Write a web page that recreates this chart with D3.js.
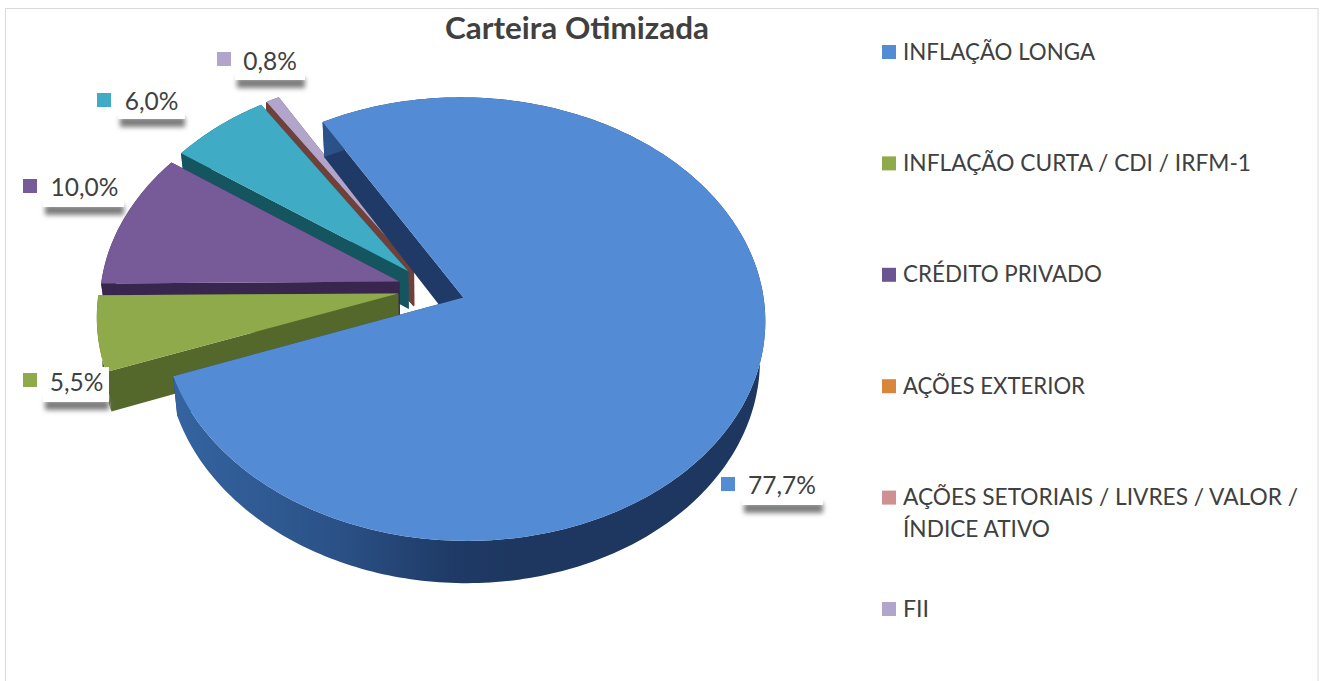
<!DOCTYPE html>
<html lang="pt">
<head>
<meta charset="utf-8">
<script src="https://cdn.jsdelivr.net/npm/d3@7/dist/d3.min.js"></script>
<style>
html,body{margin:0;padding:0;background:#fff;overflow:hidden}
svg{display:block}
text{font-family:Lato,"Open Sans",sans-serif}
</style>
</head>
<body>
<svg id="c" width="1322" height="681"></svg>
<script>
// ---- data ----
const chartTitle = "Carteira Otimizada";
const sliceValues = [77.7, 5.5, 10.0, 6.0, 0, 0, 0.8];
const sliceLabels = ["77,7%", "5,5%", "10,0%", "6,0%", null, null, "0,8%"];
const legendItems = [
  ["INFLAÇÃO LONGA"],
  ["INFLAÇÃO CURTA / CDI / IRFM-1"],
  ["CRÉDITO PRIVADO"],
  ["AÇÕES EXTERIOR"],
  ["AÇÕES SETORIAIS / LIVRES / VALOR /", "ÍNDICE ATIVO"],
  ["FII"]
];

// ---- styles & layout ----
const topColors  = ["#548bd5", "#8eaa4a", "#775a98", "#3fabc5", "#d9853c", "#cf9091", "#b2a5cb"];
const wallColors = ["#1f3a66", "#55682c", "#38264f", "#155560", "#70403a", "#70403a", "#70403a"];
const legendColors = ["#548bd5", "#8eaa4a", "#6b5590", "#d9853c", "#cf9091", "#b2a5cb"];
const legendWidths = [[192],[348],[199],[182],[395,147],[26]];
const labelLayout = [
  {box:[742,468,81,37], sw:[721,477], tx:782, ty:485},
  {box:[43,367,66,35],  sw:[23,373],  tx:76.5, ty:382},
  {box:[43,173,81,34],  sw:[23,179],  tx:84.5, ty:187.5},
  {box:[118,85,67,34],  sw:[97,93],   tx:151.5, ty:101},
  null, null,
  {box:[235,45,70,35],  sw:[217,52],  tx:270, ty:61}
];
const W = 1322, H = 681;
const origin = {x:431.5, y:289}, Rx = 299, Ry = 218, persp = 0.0976, depth = 38, explode = 0.113, taper = 0.016;

const svg = d3.select("#c");
const defs = svg.append("defs");
defs.append("filter").attr("id","blur").attr("x","-20%").attr("y","-100%").attr("width","140%").attr("height","300%")
  .append("feGaussianBlur").attr("stdDeviation",2.6);
const grad = defs.append("linearGradient").attr("id","blueWall")
  .attr("gradientUnits","userSpaceOnUse").attr("x1",180).attr("x2",520).attr("y1",0).attr("y2",0);
grad.append("stop").attr("offset",0).attr("stop-color","#34639f");
grad.append("stop").attr("offset",0.45).attr("stop-color","#2b5288");
grad.append("stop").attr("offset",0.8).attr("stop-color","#1f3a66");
grad.append("stop").attr("offset",1).attr("stop-color","#1d3760");

// frame
svg.append("rect").attr("x",5.5).attr("y",8.5).attr("width",1312.5).attr("height",690)
  .attr("fill","#fff").attr("stroke","#d9d9d9");

// ---- pie ----
const toRad = d => d*Math.PI/180;
const pie = d3.pie().sort(null).value(d => d).startAngle(toRad(-30)).endAngle(toRad(330));
const arcs = pie(sliceValues).map((d,i) => {
  const mid = (d.startAngle+d.endAngle)/2;
  return {...d, i, cu: explode*Math.sin(mid), cv: explode*Math.cos(mid)};
});

// perspective projection of the disc plane; h=1 gives the underside
const project = (u,v,h) => {
  const w = 1 + persp*v;
  return [origin.x + (1-h*taper)*Rx*u/w, origin.y - Ry*v/w + h*depth/w];
};
const line = d3.line();
const rimPts = (s,h) => {
  const n = Math.max(2, Math.ceil((s.endAngle-s.startAngle)/toRad(1)));
  return d3.range(n+1).map(k => {
    const a = s.startAngle + (s.endAngle-s.startAngle)*k/n;
    return project(s.cu+Math.sin(a), s.cv+Math.cos(a), h);
  });
};
const edge = (s,a) => {
  const p = [[s.cu,s.cv,0],[s.cu+Math.sin(a),s.cv+Math.cos(a),0],[s.cu+Math.sin(a),s.cv+Math.cos(a),1],[s.cu,s.cv,1]];
  return p.map(q => project(q[0],q[1],q[2]));
};

// paint back to front
const order = [6,5,4,3,2,1,0];
const g = svg.append("g");
const sliceG = g.selectAll("g.slice").data(order.map(i=>arcs[i])).join("g").attr("class","slice");
sliceG.append("path").attr("d", s => line(edge(s,s.startAngle))+"Z").attr("fill", s=>wallColors[s.i]);
sliceG.append("path").attr("d", s => line(edge(s,s.endAngle))+"Z").attr("fill", s=>wallColors[s.i]);
sliceG.append("path").attr("d", s => line(rimPts(s,0).concat(rimPts(s,1).reverse()))+"Z")
  .attr("fill", s => s.i===0 ? "url(#blueWall)" : wallColors[s.i]);
sliceG.filter(s=>s.value>0).append("path")
  .attr("d", s => line([project(s.cu,s.cv,0)].concat(rimPts(s,0)))+"Z")
  .attr("fill", s=>topColors[s.i]);

// ---- data labels ----
const lab = svg.append("g").selectAll("g").data(arcs.filter(s=>sliceLabels[s.i])).join("g");
lab.append("rect").attr("x",s=>labelLayout[s.i].box[0]+2).attr("y",s=>labelLayout[s.i].box[1]+labelLayout[s.i].box[3]-2)
  .attr("width",s=>labelLayout[s.i].box[2]-2).attr("height",10).attr("fill","#7c7c7c").attr("filter","url(#blur)");
lab.append("rect").attr("x",s=>labelLayout[s.i].box[0]).attr("y",s=>labelLayout[s.i].box[1])
  .attr("width",s=>labelLayout[s.i].box[2]).attr("height",s=>labelLayout[s.i].box[3]).attr("fill","#fff");
lab.append("rect").attr("x",s=>labelLayout[s.i].sw[0]).attr("y",s=>labelLayout[s.i].sw[1])
  .attr("width",14).attr("height",14).attr("fill",s=>topColors[s.i]);
lab.append("text").attr("x",s=>labelLayout[s.i].tx)
  .attr("y",s=>labelLayout[s.i].ty+8.5)
  .attr("text-anchor","middle").attr("font-size",24.5).attr("fill","#404040").text(s=>sliceLabels[s.i]);

// ---- title ----
svg.append("text").attr("x",445).attr("y",39)
  .attr("textLength",264).attr("lengthAdjust","spacingAndGlyphs")
  .attr("font-size",30).attr("font-weight",700).attr("fill","#404040").text(chartTitle);

// ---- legend ----
const legendY = d3.scalePoint().domain(d3.range(legendItems.length)).range([52,609]);
const leg = svg.append("g").selectAll("g").data(legendItems).join("g")
  .attr("transform",(d,i)=>`translate(882,${legendY(i)})`);
leg.append("rect").attr("y",-7).attr("width",14).attr("height",14).attr("fill",(d,i)=>legendColors[i]);
leg.each(function(lines,i){
  d3.select(this).selectAll("text").data(lines).join("text")
    .attr("x",21).attr("y",(d,k)=>7.5+k*32)
    .attr("textLength",(d,k)=>legendWidths[i][k]).attr("lengthAdjust","spacingAndGlyphs")
    .attr("font-size",24).attr("fill","#404040").text(d=>d);
});
</script>
</body>
</html>
